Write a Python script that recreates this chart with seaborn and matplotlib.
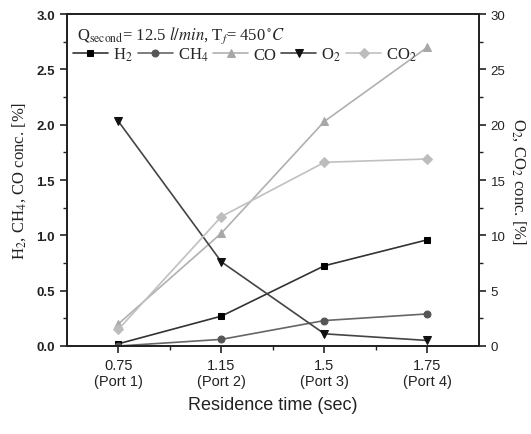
import numpy as np
import pandas as pd
import matplotlib
matplotlib.use("Agg")
import matplotlib.pyplot as plt
from matplotlib.ticker import MultipleLocator, FixedLocator
import seaborn as sns

res_time = ["0.75\n(Port 1)", "1.15\n(Port 2)", "1.5\n(Port 3)", "1.75\n(Port 4)"]
h2 = [0.02, 0.27, 0.725, 0.96]
ch4 = [0.0, 0.06, 0.23, 0.29]
co = [0.20, 1.02, 2.03, 2.70]
o2 = [20.3, 7.6, 1.1, 0.5]
co2 = [1.5, 11.7, 16.6, 16.9]

sns.set_theme(style="ticks")
plt.rcParams['font.family'] = ['Liberation Sans', 'DejaVu Sans']
plt.rcParams['mathtext.fontset'] = 'stix'

pos = list(range(len(res_time)))
df = pd.DataFrame({"x": pos, "H2": h2, "CH4": ch4, "CO": co, "O2": o2, "CO2": co2})

fig = plt.figure(figsize=(5.31, 4.35), dpi=100)
ax = fig.add_axes([0.126, 0.2023, 0.776, 0.7632])
ax2 = ax.twinx()

styles_left = [
    ("H2", "H$_2$", "#333333", "#000000", "s", 4.5),
    ("CH4", "CH$_4$", "#666666", "#555555", "o", 5),
    ("CO", "CO", "#b0b0b0", "#a8a8a8", "^", 5.8),
]
styles_right = [
    ("O2", "O$_2$", "#444444", "#111111", "v", 6),
    ("CO2", "CO$_2$", "#c0c0c0", "#bdbdbd", "D", 4.8),
]

handles = []
for col, lab, lc, mc, mk, ms in styles_left:
    sns.lineplot(data=df, x="x", y=col, ax=ax, color=lc, marker=mk, markersize=ms,
                 markerfacecolor=mc, markeredgecolor=mc, linewidth=1.2, label=lab, legend=False)
    handles.append(ax.lines[-1])
for col, lab, lc, mc, mk, ms in styles_right:
    sns.lineplot(data=df, x="x", y=col, ax=ax2, color=lc, marker=mk, markersize=ms,
                 markerfacecolor=mc, markeredgecolor=mc, linewidth=1.2, label=lab, legend=False)
    handles.append(ax2.lines[-1])

ax.set_xlim(-0.5, 3.5)
ax.set_ylim(0, 3.0)
ax2.set_ylim(0, 30)
ax.set_xticks(pos)
ax.set_xticklabels(res_time, fontsize=10.5, color="#333333")
ax.xaxis.set_minor_locator(FixedLocator([0.5, 1.5, 2.5]))
ax.yaxis.set_major_locator(MultipleLocator(0.5))
ax.yaxis.set_minor_locator(MultipleLocator(0.25))
ax2.yaxis.set_major_locator(MultipleLocator(5))
ax2.yaxis.set_minor_locator(MultipleLocator(2.5))

for a in (ax, ax2):
    a.tick_params(which="major", length=5, width=1.2, direction="out", colors="#222222")
    a.tick_params(which="minor", length=3, width=1.0, direction="out", colors="#222222")
    for s in a.spines.values():
        s.set_linewidth(1.3)
        s.set_color("#222222")
        s.set_visible(True)
ax.tick_params(axis="y", labelsize=9.5)
ax2.tick_params(axis="y", labelsize=9.5)
for t in ax.get_yticklabels():
    t.set_fontweight("bold")

ax.set_xlabel("Residence time (sec)", fontsize=13, color="#222222", labelpad=6)
ax.set_ylabel("H$_2$, CH$_4$, CO conc. [%]", fontsize=12, family="Liberation Serif", color="#222222", labelpad=6)
ax2.set_ylabel("O$_2$, CO$_2$ conc. [%]", fontsize=12, family="Liberation Serif", color="#222222",
               rotation=270, labelpad=16)

ax.text(0.025, 0.97, "Q$_{\\mathrm{second}}$= 12.5 $l/min$, T$_f$= 450$\\,^{\\circ}C$",
        transform=ax.transAxes, fontsize=12, family="Liberation Serif", va="top", ha="left")

leg = ax.legend(handles=handles, labels=[h.get_label() for h in handles], loc="upper left",
                bbox_to_anchor=(-0.01, 0.935), ncol=5, frameon=False, handlelength=2.1,
                handletextpad=0.3, columnspacing=0.3, borderaxespad=0.2,
                prop={"family": "Liberation Serif", "size": 12})

fig.savefig("out.png", dpi=100)
